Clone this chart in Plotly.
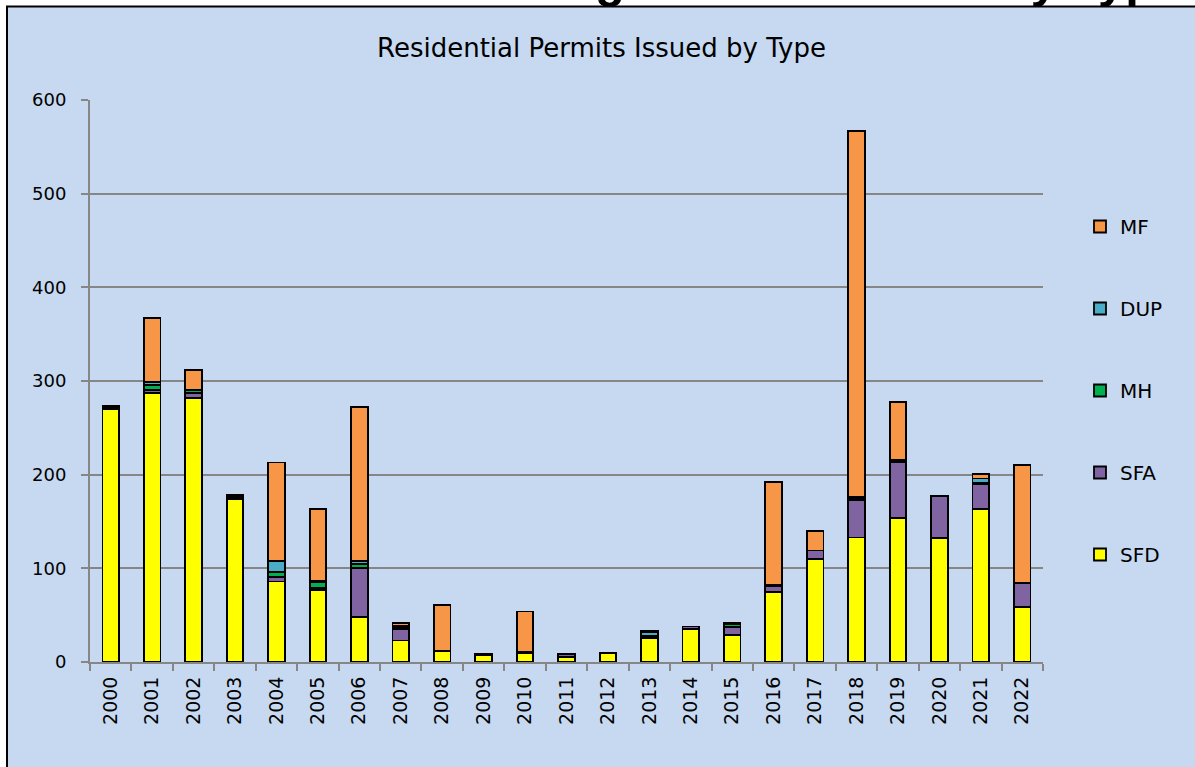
import plotly.graph_objects as go

# ---------------- data ----------------
years = [str(y) for y in range(2000, 2023)]
sfd = [270, 287, 282, 174, 86, 77, 48, 23, 12, 7, 9, 5, 10, 26, 35, 29, 75, 110, 133, 154, 132, 163, 59]
sfa = [1, 3, 5, 2, 5, 2, 52, 12, 0, 1, 2, 3, 0, 2, 3, 8, 6, 9, 40, 59, 45, 27, 25]
mh = [2, 6, 3, 2, 5, 6, 5, 2, 0, 1, 0, 1, 0, 0, 0, 3, 0, 0, 1, 2, 0, 1, 0]
dup = [0, 3, 1, 0, 12, 2, 3, 2, 0, 0, 0, 0, 0, 4, 0, 2, 1, 0, 2, 1, 0, 5, 0]
mf = [0, 68, 21, 0, 105, 76, 164, 3, 49, 0, 43, 0, 0, 1, 0, 0, 110, 21, 391, 62, 0, 5, 126]
y_ticks = [0, 100, 200, 300, 400, 500, 600]

series = [
    ("SFD", sfd, "#FFFF00"),
    ("SFA", sfa, "#8064A2"),
    ("MH", mh, "#00B050"),
    ("DUP", dup, "#4BACC6"),
    ("MF", mf, "#F79646"),
]

# ---------------- layout geometry (pixels) ----------------
W, H = 1195, 767
PL, PR, PT, PB = 90, 1043, 100, 662  # plot area edges


def px_x(px):
    return (px - PL) / (PR - PL)


def px_y(py):
    return (PB - py) / (PB - PT)


fig = go.Figure()
for i, (name, vals, color) in enumerate(series):
    fig.add_trace(go.Bar(
        x=years,
        y=[v if v else None for v in vals],
        name=name,
        legendgroup=name,
        legendrank=len(series) - i,
        marker=dict(color=color, line=dict(color="#000000", width=1.8)),
    ))

fig.update_layout(
    width=W, height=H,
    barmode="stack",
    bargap=0.6,
    paper_bgcolor="#FFFFFF",
    plot_bgcolor="rgba(0,0,0,0)",
    margin=dict(l=PL, r=W - PR, t=PT, b=H - PB, autoexpand=False),
    showlegend=True,
    legend=dict(
        traceorder="grouped",
        tracegroupgap=53,
        x=px_x(1080), xanchor="left",
        y=px_y(207), yanchor="top",
        bgcolor="rgba(0,0,0,0)",
        font=dict(family="DejaVu Sans", size=20, color="#000000"),
        itemwidth=30,
    ),
    xaxis=dict(
        type="category",
        tickangle=-90,
        tickson="boundaries",
        ticks="outside", ticklen=7, tickwidth=2, tickcolor="#868686",
        showline=True, linecolor="#868686", linewidth=2,
        showgrid=False,
        ticklabelstandoff=5,
        tickfont=dict(family="DejaVu Sans", size=19, color="#000000"),
    ),
    yaxis=dict(
        range=[0, 600],
        tickvals=y_ticks,
        ticks="outside", ticklen=7, tickwidth=2, tickcolor="#868686",
        showline=True, linecolor="#868686", linewidth=2,
        showgrid=True, gridcolor="#868686", gridwidth=1.5,
        zeroline=False,
        ticklabelstandoff=11,
        tickfont=dict(family="DejaVu Sans", size=18, color="#000000"),
    ),
    shapes=[dict(
        type="rect", xref="paper", yref="paper", layer="below",
        x0=px_x(7), x1=px_x(W + 10), y0=px_y(H + 10), y1=px_y(6.5),
        fillcolor="#C6D9F1", line=dict(color="#000000", width=2),
    )],
    annotations=[
        dict(
            text="Residential Permits Issued by Type",
            xref="paper", yref="paper",
            x=px_x(601), y=px_y(48), xanchor="center", yanchor="middle",
            showarrow=False,
            font=dict(family="DejaVu Sans", size=26, color="#000000"),
        ),
        dict(
            text="<b>Residential Building Permits Issued by Type</b>",
            xref="paper", yref="paper",
            x=px_x(1184), y=px_y(9), xanchor="right", yanchor="bottom",
            showarrow=False,
            font=dict(family="Liberation Sans", size=49, color="#000000"),
        ),
    ],
)

fig.write_html(
    "out.html",
    config={"displayModeBar": False},
    post_script="document.body.style.margin='0';document.body.style.overflow='hidden';",
)
